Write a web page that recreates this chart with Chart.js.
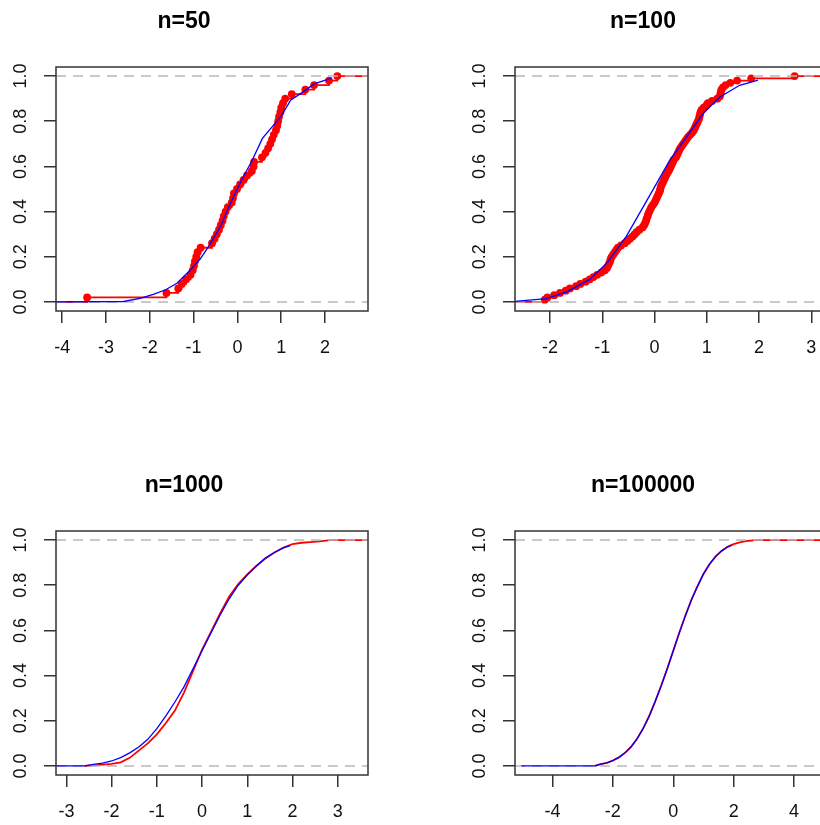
<!DOCTYPE html>
<html><head><meta charset="utf-8">
<script src="https://cdn.jsdelivr.net/npm/chart.js@4.4.1/dist/chart.umd.min.js"></script>
<style>
html,body{margin:0;padding:0;background:#fff;overflow:hidden;width:820px;height:825px;position:relative;}
canvas{position:absolute;}
</style></head><body>
<canvas id="c1" width="420" height="390" style="left:0px;top:0px"></canvas>
<canvas id="c2" width="420" height="390" style="left:459px;top:0px"></canvas>
<canvas id="c3" width="420" height="390" style="left:0px;top:464px"></canvas>
<canvas id="c4" width="420" height="390" style="left:459px;top:464px"></canvas>
<script>
// ---------- data ----------
const titles = ["n=50", "n=100", "n=1000", "n=100000"];
const yTicks = [0, 0.2, 0.4, 0.6, 0.8, 1.0];

// panel 1: n=50 sample (sorted) and ECDF heights
const n50X = [-3.43,-1.62,-1.35,-1.27,-1.17,-1.07,-1.02,-0.99,-0.97,-0.94,
  -0.91,-0.84,-0.58,-0.52,-0.47,-0.42,-0.38,-0.34,-0.31,-0.27,
  -0.22,-0.13,-0.10,-0.08,-0.01,0.06,0.14,0.22,0.33,0.37,
  0.38,0.56,0.64,0.70,0.75,0.79,0.83,0.88,0.91,0.93,
  0.95,0.98,1.00,1.04,1.09,1.24,1.55,1.75,2.09,2.28];
const n50Y = [0.02,0.04,0.06,0.08,0.10,0.12,0.14,0.16,0.18,0.20,
  0.22,0.24,0.26,0.28,0.30,0.32,0.34,0.36,0.38,0.40,
  0.42,0.44,0.46,0.48,0.50,0.52,0.54,0.56,0.58,0.60,
  0.62,0.64,0.66,0.68,0.70,0.72,0.74,0.76,0.78,0.80,
  0.82,0.84,0.86,0.88,0.90,0.92,0.94,0.96,0.98,1.00];
const n50BlueX = [-4.14,-2.6,-2.22,-1.92,-1.65,-1.38,-1.08,-0.85,-0.66,-0.39,-0.16,0.07,0.34,0.57,0.99,1.22,1.5,1.75,2.06,2.15];
const n50BlueY = [0,0.002,0.016,0.034,0.053,0.083,0.14,0.19,0.245,0.333,0.437,0.53,0.628,0.724,0.82,0.894,0.93,0.965,0.985,0.99];

// panel 2: n=100
const n100X = [-2.10,-2.05,-1.92,-1.81,-1.70,-1.62,-1.50,-1.42,-1.32,-1.24,
  -1.17,-1.10,-1.02,-0.95,-0.91,-0.89,-0.87,-0.85,-0.84,-0.82,
  -0.79,-0.76,-0.73,-0.70,-0.64,-0.57,-0.52,-0.47,-0.42,-0.38,
  -0.34,-0.29,-0.23,-0.20,-0.18,-0.16,-0.15,-0.13,-0.12,-0.10,
  -0.08,-0.06,-0.03,0.00,0.02,0.04,0.06,0.08,0.10,0.11,
  0.12,0.14,0.16,0.18,0.20,0.22,0.24,0.27,0.29,0.31,
  0.33,0.35,0.37,0.41,0.43,0.45,0.47,0.49,0.52,0.55,
  0.58,0.61,0.64,0.68,0.72,0.75,0.77,0.79,0.81,0.83,
  0.85,0.86,0.87,0.88,0.90,0.94,0.99,1.02,1.10,1.20,
  1.25,1.26,1.27,1.28,1.31,1.36,1.45,1.58,1.85,2.68];
const n100Y = [0.01,0.02,0.03,0.04,0.05,0.06,0.07,0.08,0.09,0.10,
  0.11,0.12,0.13,0.14,0.15,0.16,0.17,0.18,0.19,0.20,
  0.21,0.22,0.23,0.24,0.25,0.26,0.27,0.28,0.29,0.30,
  0.31,0.32,0.33,0.34,0.35,0.36,0.37,0.38,0.39,0.40,
  0.41,0.42,0.43,0.44,0.45,0.46,0.47,0.48,0.49,0.50,
  0.51,0.52,0.53,0.54,0.55,0.56,0.57,0.58,0.59,0.60,
  0.61,0.62,0.63,0.64,0.65,0.66,0.67,0.68,0.69,0.70,
  0.71,0.72,0.73,0.74,0.75,0.76,0.77,0.78,0.79,0.80,
  0.81,0.82,0.83,0.84,0.85,0.86,0.87,0.88,0.89,0.90,
  0.91,0.92,0.93,0.94,0.95,0.96,0.97,0.98,0.99,1.00];
const n100BlueX = [-2.67,-2.07,-1.68,-1.24,-0.92,-0.54,-0.22,0.04,0.29,0.61,0.93,1.25,1.63,1.98];
const n100BlueY = [0.003,0.015,0.045,0.10,0.17,0.29,0.42,0.525,0.627,0.73,0.834,0.907,0.959,0.982];

// panel 3: n=1000 (ECDF traced as a line)
const n1000RedX = [-2.6,-2.4,-2.2,-2.0,-1.8,-1.6,-1.4,-1.2,-1.0,-0.8,-0.6,-0.4,-0.2,0.0,0.2,0.4,0.6,0.8,1.0,1.2,1.4,1.6,1.8,2.0,2.2,2.4,2.6,2.84,3.67];
const n1000RedY = [0,0.003,0.006,0.009,0.016,0.036,0.068,0.10,0.14,0.19,0.245,0.325,0.42,0.515,0.595,0.675,0.75,0.805,0.848,0.885,0.918,0.945,0.967,0.982,0.988,0.991,0.994,1.0,1.0];
const n1000BlueX = [-3.23,-2.6,-2.4,-2.2,-2.0,-1.8,-1.6,-1.4,-1.2,-1.0,-0.8,-0.6,-0.4,-0.2,0.0,0.2,0.4,0.6,0.8,1.0,1.2,1.4,1.6,1.8,1.95];
const n1000BlueY = [0,0,0.007,0.013,0.022,0.037,0.058,0.084,0.118,0.165,0.222,0.283,0.35,0.43,0.51,0.59,0.668,0.74,0.80,0.845,0.885,0.92,0.945,0.965,0.975];

// panel 4: n=100000
const n100000RedX = [-2.6,-2.4,-2.2,-2.0,-1.8,-1.6,-1.4,-1.2,-1.0,-0.8,-0.6,-0.4,-0.2,0.0,0.2,0.4,0.6,0.8,1.0,1.2,1.4,1.6,1.8,2.0,2.2,2.4,2.6,2.7,5.09];
const n100000RedY = [0,0.008,0.014,0.024,0.038,0.058,0.084,0.12,0.165,0.22,0.285,0.355,0.43,0.51,0.59,0.665,0.735,0.795,0.85,0.893,0.927,0.952,0.97,0.982,0.99,0.995,0.998,1.0,1.0];
const n100000BlueX = [-5.03,-2.6,-2.4,-2.2,-2.0,-1.8,-1.6,-1.4,-1.2,-1.0,-0.8,-0.6,-0.4,-0.2,0.0,0.2,0.4,0.6,0.8,1.0,1.2,1.4,1.6,1.8,1.95];
const n100000BlueY = [0,0,0.008,0.014,0.024,0.038,0.058,0.084,0.12,0.165,0.22,0.285,0.355,0.43,0.51,0.59,0.665,0.735,0.795,0.85,0.893,0.927,0.952,0.97,0.978];

// axis ranges and ticks
const xRanges = [[-4.14, 2.98], [-2.67, 3.30], [-3.23, 3.67], [-5.24, 5.09]];
const xTickSets = [[-4,-3,-2,-1,0,1,2], [-2,-1,0,1,2,3], [-3,-2,-1,0,1,2,3], [-4,-2,0,2,4]];
const yRange = [-0.04, 1.04];

// ---------- drawing ----------
const FONT = "'Liberation Sans', Arial, Helvetica, sans-serif";
const pts = (xs, ys) => xs.map((x, i) => ({x: x, y: ys[i]}));

const boxPlugin = {
  id: 'box',
  afterDraw(chart) {
    const a = chart.chartArea, c = chart.ctx;
    c.save();
    c.strokeStyle = '#333';
    c.lineWidth = 1.5;
    c.strokeRect(a.left, a.top, a.right - a.left, a.bottom - a.top);
    c.restore();
  }
};

function refLines(r) {
  const base = {borderColor: '#b8b8b8', borderWidth: 1.5, borderDash: [10, 7], pointRadius: 0, order: 1, fill: false};
  return [
    Object.assign({data: [{x: r[0], y: 0}, {x: r[1], y: 0}]}, base),
    Object.assign({data: [{x: r[0], y: 1}, {x: r[1], y: 1}]}, base)
  ];
}

function stepEcdf(xs, ys, r) {
  const data = [{x: r[0], y: 0}].concat(pts(xs, ys), [{x: r[1], y: 1}]);
  const last = data.length - 1;
  return {
    data: data, stepped: true, borderColor: '#ff0000', borderWidth: 1.8, order: 2,
    backgroundColor: '#ff0000', pointBorderWidth: 0,
    pointRadius: ctx => (ctx.dataIndex === 0 || ctx.dataIndex === last) ? 0 : 3.9
  };
}

function lineEcdf(xs, ys) {
  return {data: pts(xs, ys), borderColor: '#ff0000', borderWidth: 1.8, pointRadius: 0, order: 2};
}

function blueLine(xs, ys) {
  return {data: pts(xs, ys), borderColor: '#0000ff', borderWidth: 1.3, pointRadius: 0, order: 0};
}

const panels = [
  {id: 'c1', k: 0, red: stepEcdf(n50X, n50Y, xRanges[0]), blue: blueLine(n50BlueX, n50BlueY)},
  {id: 'c2', k: 1, red: stepEcdf(n100X, n100Y, xRanges[1]), blue: blueLine(n100BlueX, n100BlueY)},
  {id: 'c3', k: 2, red: lineEcdf(n1000RedX, n1000RedY), blue: blueLine(n1000BlueX, n1000BlueY)},
  {id: 'c4', k: 3, red: lineEcdf(n100000RedX, n100000RedY), blue: blueLine(n100000BlueX, n100000BlueY)}
];

panels.forEach(p => {
  const r = xRanges[p.k], xt = xTickSets[p.k];
  new Chart(document.getElementById(p.id), {
    type: 'line',
    data: {datasets: [p.blue].concat(refLines(r), [p.red])},
    plugins: [boxPlugin],
    options: {
      responsive: false,
      animation: false,
      events: [],
      layout: {padding: {left: 0, top: 0, right: 52, bottom: 0}},
      elements: {line: {tension: 0}},
      plugins: {
        legend: {display: false},
        tooltip: {enabled: false},
        title: {
          display: true, text: titles[p.k], color: '#000',
          font: {family: FONT, size: 23, weight: 'bold', lineHeight: 1.2},
          padding: {top: 7.5, bottom: 31.9}
        }
      },
      scales: {
        x: {
          type: 'linear', min: r[0], max: r[1],
          afterBuildTicks: s => { s.ticks = xt.map(v => ({value: v})); },
          afterFit: s => { s.height = 79; },
          border: {display: false},
          grid: {display: true, drawOnChartArea: false, drawTicks: true, tickLength: 12, color: '#333', lineWidth: 1.5},
          ticks: {color: '#111', font: {family: FONT, size: 18}, padding: 14, maxRotation: 0, minRotation: 0,
                  callback: v => String(v)}
        },
        y: {
          type: 'linear', min: yRange[0], max: yRange[1],
          afterBuildTicks: s => { s.ticks = yTicks.map(v => ({value: v})); },
          afterFit: s => { s.width = 56; },
          border: {display: false},
          grid: {display: true, drawOnChartArea: false, drawTicks: true, tickLength: 12, color: '#333', lineWidth: 1.5},
          ticks: {color: '#111', font: {family: FONT, size: 18}, padding: 10.7, minRotation: 90, maxRotation: 90,
                  crossAlign: 'center', callback: v => Number(v).toFixed(1)}
        }
      }
    }
  });
});
</script>
</body></html>
